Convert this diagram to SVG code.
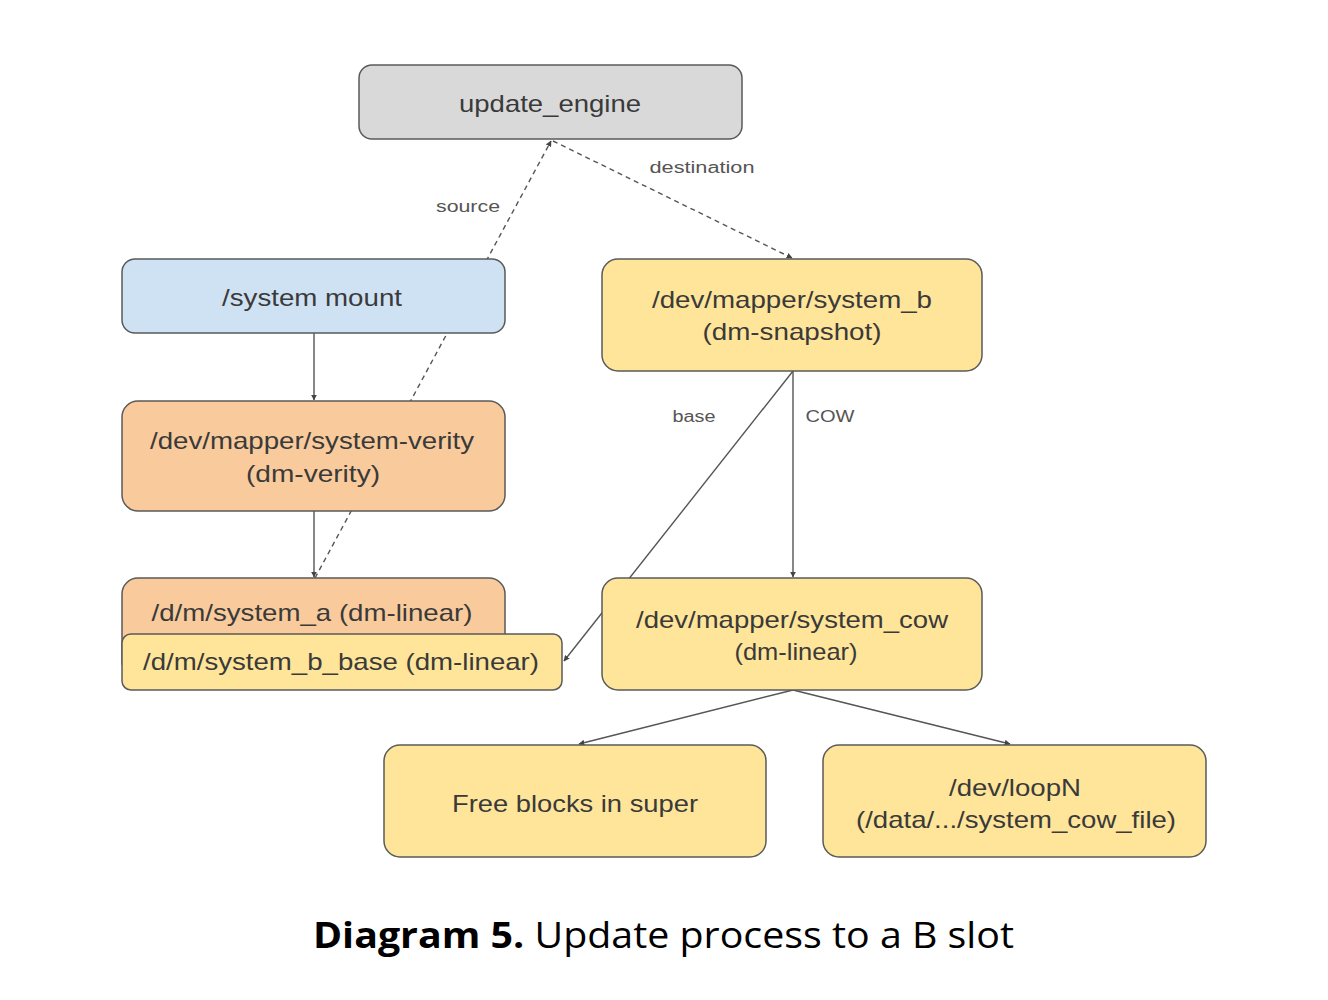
<svg xmlns="http://www.w3.org/2000/svg" width="1328" height="1000" viewBox="0 0 1328 1000">
<style>
.box{stroke:#5a5a5a;stroke-width:1.5}
.t{font-family:"Liberation Sans",Arial,sans-serif;font-size:24px;fill:#3a3a3a;text-anchor:middle}
.l{font-family:"Liberation Sans",Arial,sans-serif;font-size:16px;fill:#555;text-anchor:middle}
.c{stroke:#555;stroke-width:1.4;fill:none}
.d{stroke-dasharray:5,4}
.cap{font-family:"Open Sans",sans-serif;font-size:36px;fill:#000}
</style>
<defs>
<marker id="ah" viewBox="0 0 10 10" refX="9" refY="5" markerWidth="6" markerHeight="6" markerUnits="userSpaceOnUse" orient="auto">
<path d="M0,0 L10,5 L0,10 z" fill="#444"/>
</marker>
</defs>
<rect width="1328" height="1000" fill="#fff"/>
<g id="connectors">
<line class="c d" x1="315" y1="578" x2="551" y2="141" marker-end="url(#ah)"/>
<line class="c d" x1="553" y1="141" x2="792" y2="258" marker-end="url(#ah)"/>
<line class="c" x1="314" y1="333" x2="314" y2="400" marker-end="url(#ah)"/>
<line class="c" x1="314" y1="511" x2="314" y2="577" marker-end="url(#ah)"/>
<line class="c" x1="793" y1="371" x2="564" y2="661" marker-end="url(#ah)"/>
<line class="c" x1="793" y1="371" x2="793" y2="577" marker-end="url(#ah)"/>
<line class="c" x1="793" y1="690" x2="579" y2="744" marker-end="url(#ah)"/>
<line class="c" x1="793" y1="690" x2="1010" y2="744" marker-end="url(#ah)"/>
<text class="l" x="468" y="212" textLength="64" lengthAdjust="spacingAndGlyphs">source</text>
<text class="l" x="702" y="173" textLength="105" lengthAdjust="spacingAndGlyphs">destination</text>
<text class="l" x="694" y="422" textLength="43" lengthAdjust="spacingAndGlyphs">base</text>
<text class="l" x="830" y="422" textLength="49" lengthAdjust="spacingAndGlyphs">COW</text>
</g>
<g id="update_engine">
<rect class="box" x="359" y="65" width="383" height="74" rx="13" fill="#d9d9d9"/>
<text class="t" x="550" y="112" textLength="182" lengthAdjust="spacingAndGlyphs">update_engine</text>
</g>
<g id="system_mount">
<rect class="box" x="122" y="259" width="383" height="74" rx="13" fill="#cfe2f3"/>
<text class="t" x="312" y="306" textLength="180" lengthAdjust="spacingAndGlyphs">/system mount</text>
</g>
<g id="system_verity">
<rect class="box" x="122" y="401" width="383" height="110" rx="16" fill="#f9cb9c"/>
<text class="t" x="312" y="449" textLength="324" lengthAdjust="spacingAndGlyphs">/dev/mapper/system-verity</text>
<text class="t" x="313" y="482" textLength="134" lengthAdjust="spacingAndGlyphs">(dm-verity)</text>
</g>
<g id="system_a">
<rect class="box" x="122" y="578" width="383" height="100" rx="16" fill="#f9cb9c"/>
<text class="t" x="312" y="621" textLength="321" lengthAdjust="spacingAndGlyphs">/d/m/system_a (dm-linear)</text>
</g>
<g id="system_b_base">
<rect class="box" x="122" y="634" width="440" height="56" rx="9" fill="#ffe599"/>
<text class="t" x="341" y="670" textLength="396" lengthAdjust="spacingAndGlyphs">/d/m/system_b_base (dm-linear)</text>
</g>
<g id="system_b">
<rect class="box" x="602" y="259" width="380" height="112" rx="16" fill="#ffe599"/>
<text class="t" x="792" y="308" textLength="280" lengthAdjust="spacingAndGlyphs">/dev/mapper/system_b</text>
<text class="t" x="792" y="340" textLength="179" lengthAdjust="spacingAndGlyphs">(dm-snapshot)</text>
</g>
<g id="system_cow">
<rect class="box" x="602" y="578" width="380" height="112" rx="16" fill="#ffe599"/>
<text class="t" x="792" y="628" textLength="312" lengthAdjust="spacingAndGlyphs">/dev/mapper/system_cow</text>
<text class="t" x="796" y="660" textLength="123" lengthAdjust="spacingAndGlyphs">(dm-linear)</text>
</g>
<g id="free_blocks">
<rect class="box" x="384" y="745" width="382" height="112" rx="16" fill="#ffe599"/>
<text class="t" x="575" y="812" textLength="246" lengthAdjust="spacingAndGlyphs">Free blocks in super</text>
</g>
<g id="loopN">
<rect class="box" x="823" y="745" width="383" height="112" rx="16" fill="#ffe599"/>
<text class="t" x="1015" y="796" textLength="132" lengthAdjust="spacingAndGlyphs">/dev/loopN</text>
<text class="t" x="1016" y="828" textLength="320" lengthAdjust="spacingAndGlyphs">(/data/.../system_cow_file)</text>
</g>
<text class="cap" x="313" y="948" textLength="701" lengthAdjust="spacingAndGlyphs"><tspan font-weight="bold">Diagram 5.</tspan> Update process to a B slot</text>
</svg>
